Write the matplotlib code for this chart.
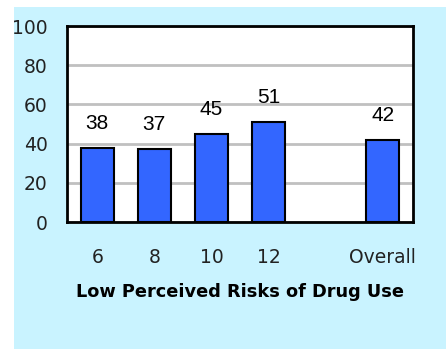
import matplotlib
matplotlib.use("Agg")
import matplotlib.pyplot as plt
from matplotlib.patches import Rectangle

# data
grades = ["6", "8", "10", "12", "Overall"]
positions = [0, 1, 2, 3, 5]
values = [38, 37, 45, 51, 42]
title = "Low Perceived Risks of Drug Use"

W, H = 446, 350
fig = plt.figure(figsize=(W / 100, H / 100), dpi=100, facecolor="white")

# light cyan panel behind the chart
fig.patches.append(Rectangle((14 / W, 1 / H), (W - 14) / W, 342 / H,
                             transform=fig.transFigure, facecolor="#C9F3FF",
                             edgecolor="none", zorder=-10))

ax = fig.add_axes([67 / W, 128 / H, 346 / W, 196 / H])
ax.set_facecolor("white")

bars = ax.bar(positions, values, width=0.58, color="#3366FF",
              edgecolor="black", linewidth=1.5, zorder=3)
for x, v in zip(positions, values):
    ax.text(x, v + 12.5, str(v), ha="center", va="center", fontsize=15,
            family="Liberation Sans", color="black", zorder=4)

ax.set_xlim(-0.53, 5.53)
ax.set_ylim(0, 100)
ax.set_yticks([0, 20, 40, 60, 80, 100])
ax.set_xticks(positions)
ax.set_xticklabels(grades)
ax.tick_params(axis="both", length=0, labelsize=13.5, colors="#222222")
ax.tick_params(axis="x", pad=19)
ax.tick_params(axis="y", pad=14)
ax.grid(axis="y", color="#C0C0C0", linewidth=2, zorder=1)
for s in ax.spines.values():
    s.set_linewidth(2)
    s.set_color("black")

ax.set_xlabel(title, fontsize=12.8, fontweight="bold", labelpad=11)

fig.savefig("out.png", dpi=100, facecolor="white")
